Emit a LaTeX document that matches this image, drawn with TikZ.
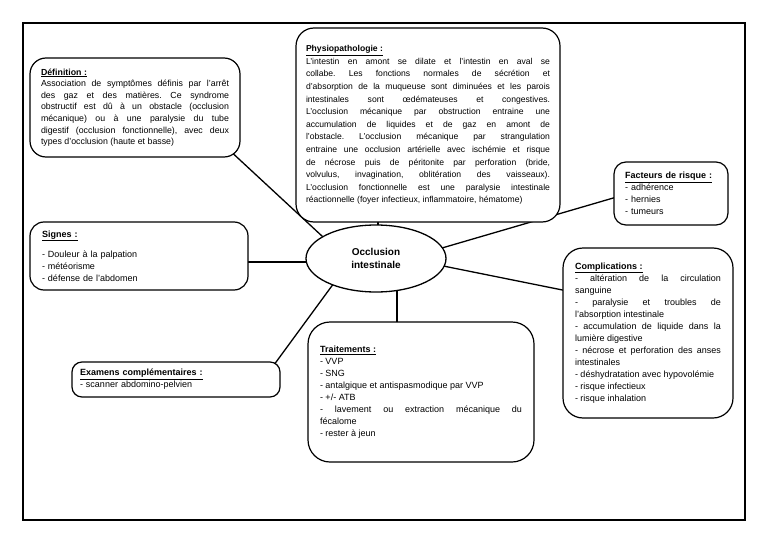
\documentclass[tikz,border=0pt]{standalone}
\usepackage{fontspec}
\setmainfont{Liberation Sans}
\usetikzlibrary{shapes.geometric,calc}
\pgfdeclarelayer{background}
\pgfsetlayers{background,main}
\frenchspacing
\newcommand{\ttl}[1]{\underline{\textbf{#1}}}
\tikzset{
  box/.style={draw, line width=1.2pt, rounded corners=16pt, fill=white, align=justify,
    font={\fontsize{9}{12}\selectfont\frenchspacing\hyphenpenalty=10000 \exhyphenpenalty=10000 \emergencystretch=20pt},
    inner ysep=0pt},
  conn/.style={line width=1.3pt},
  frame/.style={line width=1.6pt}
}
\begin{document}
\begin{tikzpicture}[x=1pt,y=-1pt]
\useasboundingbox (0,0) rectangle (768,543);
\draw[frame] (23,23) rectangle (745,520);

\node[box, text width=188pt, inner xsep=11pt, minimum height=99pt,
  font={\fontsize{8.8}{11.6}\selectfont\frenchspacing\hyphenpenalty=10000}] (def) at (135,107.5)
{\ttl{Définition :}\\
Association de symptômes définis par l’arrêt\linebreak
des gaz et des matières. Ce syndrome\linebreak
obstructif est dû à un obstacle (occlusion\linebreak
mécanique) ou à une paralysie du tube\linebreak
digestif (occlusion fonctionnelle), avec deux\linebreak
types d’occlusion (haute et basse)};

\node[box, text width=244pt, inner xsep=10pt, minimum height=194pt, rounded corners=18pt,
  font={\fontsize{8.6}{12.6}\selectfont\frenchspacing\hyphenpenalty=10000}] (phys) at (428,125)
{\ttl{Physiopathologie :}\\
L’intestin en amont se dilate et l’intestin en aval se\linebreak
collabe. Les fonctions normales de sécrétion et\linebreak
d’absorption de la muqueuse sont diminuées et les parois\linebreak
intestinales sont œdémateuses et congestives.\linebreak
L’occlusion mécanique par obstruction entraine une\linebreak
accumulation de liquides et de gaz en amont de\linebreak
l’obstacle. L’occlusion mécanique par strangulation\linebreak
entraine une occlusion artérielle avec ischémie et risque\linebreak
de nécrose puis de péritonite par perforation (bride,\linebreak
volvulus, invagination, oblitération des vaisseaux).\linebreak
L’occlusion fonctionnelle est une paralysie intestinale\linebreak
réactionnelle (foyer infectieux, inflammatoire, hématome)};

\node[box, text width=92pt, inner xsep=11pt, minimum height=63pt, align=left, rounded corners=12pt] (fac) at (671,193.5)
{\ttl{Facteurs de risque :}\\
- adhérence\\
- hernies\\
- tumeurs};

\node[box, text width=194pt, inner xsep=12pt, minimum height=68pt, align=left, rounded corners=14pt] (sig) at (139,256)
{\ttl{Signes :}\\[8pt]
- Douleur à la palpation\\
- météorisme\\
- défense de l’abdomen};

\node[ellipse, draw, line width=1.3pt, fill=white, minimum width=140pt, minimum height=67pt,
  align=center, font={\fontsize{10}{13.5}\selectfont\bfseries}] (ell) at (376,258.5)
{Occlusion\\intestinale};

\node[box, text width=146pt, inner xsep=12pt, minimum height=170pt, rounded corners=20pt] (comp) at (648,333)
{\ttl{Complications :}\\
- altération de la circulation\linebreak
sanguine\\
- paralysie et troubles de\linebreak
l’absorption intestinale\\
- accumulation de liquide dans la\linebreak
lumière digestive\\
- nécrose et perforation des anses\linebreak
intestinales\\
- déshydratation avec hypovolémie\\
- risque infectieux\\
- risque inhalation};

\node[box, text width=192pt, inner xsep=8pt, minimum height=35pt, align=left, rounded corners=10pt] (exa) at (176,379.5)
{\ttl{Examens complémentaires :}\\
- scanner abdomino-pelvien};

\node[box, text width=202pt, inner xsep=12pt, minimum height=140pt, rounded corners=22pt] (tra) at (421,392)
{\ttl{Traitements :}\\
- VVP\\
- SNG\\
- antalgique et antispasmodique par VVP\\
- +/- ATB\\
- lavement ou extraction mécanique du\linebreak
fécalome\\
- rester à jeun};

\begin{pgfonlayer}{background}
\draw[conn] ($(def.south east)+(-14,-10)$) -- ($(ell.center)+(-26,3.5)$);
\draw[conn] ($(phys.south)+(-50,-5)$) -- ($(ell.center)+(2,0)$);
\draw[conn] ($(fac.west)+(5,3)$) -- ($(ell.center)+(30,0)$);
\draw[conn] ($(comp.west)+(5,-42)$) -- ($(ell.center)+(30,0)$);
\draw[conn] ($(sig.east)+(-10,6)$) -- ($(ell.west)+(10,3.5)$);
\draw[conn] ($(exa.north east)+(-7,4)$) -- ($(ell.center)+(-31,9.5)$);
\draw[conn] ($(ell.center)+(21,0)$) -- ($(tra.north)+(-24,10)$);
\end{pgfonlayer}
\end{tikzpicture}
\end{document}
